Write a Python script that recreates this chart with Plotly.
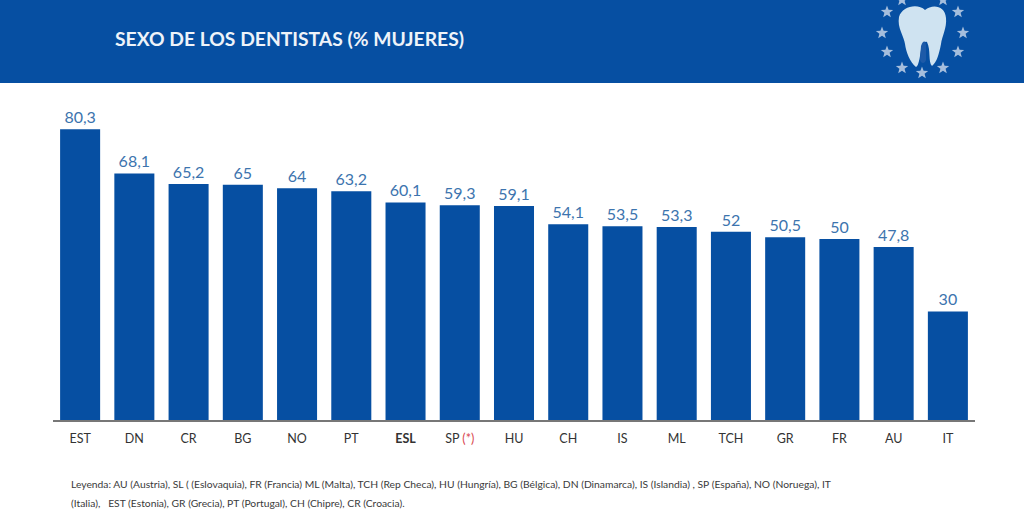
import plotly.graph_objects as go
import math

# Share of women among dentists, by country code
countries = ["EST", "DN", "CR", "BG", "NO", "PT", "ESL", "SP", "HU", "CH", "IS", "ML", "TCH", "GR", "FR", "AU", "IT"]
women_pct = [80.3, 68.1, 65.2, 65, 64, 63.2, 60.1, 59.3, 59.1, 54.1, 53.5, 53.3, 52, 50.5, 50, 47.8, 30]
tick_labels = ["EST", "DN", "CR", "BG", "NO", "PT", "<b>ESL</b>",
               "SP <span style='color:#d9474f'>(*)</span>",
               "HU", "CH", "IS", "ML", "TCH", "GR", "FR", "AU", "IT"]
value_labels = [f"{v:g}".replace(".", ",") for v in women_pct]

title_text = "SEXO DE LOS DENTISTAS (% MUJERES)"
legend_line_1 = ("Leyenda: AU (Austria), SL ( (Eslovaquia), FR (Francia) ML (Malta), TCH (Rep Checa), HU (Hungría), "
                 "BG (Bélgica), DN (Dinamarca), IS (Islandia) , SP (España), NO (Noruega), IT")
legend_line_2 = "(Italia),   EST (Estonia), GR (Grecia), PT (Portugal), CH (Chipre), CR (Croacia)."

W, H = 1024, 522
BLUE = "#064fa2"
FONT = "Lato, sans-serif"


def px(x):
    return x / W


def py(y):
    return 1 - y / H


def path_from(points):
    # Paths are written in page pixels and converted to paper coordinates
    out = []
    for cmd, *xy in points:
        coords = " ".join(f"{px(xy[i]):.5f},{py(xy[i + 1]):.5f}" for i in range(0, len(xy), 2))
        out.append(f"{cmd} {coords}")
    return " ".join(out) + " Z"


def star(cx, cy, r):
    pts = []
    for i in range(10):
        a = -math.pi / 2 + i * math.pi / 5
        rad = r if i % 2 == 0 else r * 0.42
        pts.append(("M" if i == 0 else "L", cx + rad * math.cos(a), cy + rad * math.sin(a)))
    return path_from(pts)


star_centres = [(902, 0), (943, 0), (887, 12), (958, 12), (882, 33), (963, 33),
                (887, 52), (958, 52), (902, 68), (943, 68), (922, 73)]

# Crown and two roots of the tooth emblem
tooth = [("M", 899, 17),
         ("C", 902, 6, 918, 3, 925, 10),
         ("C", 932, 4, 945, 5, 946, 18),
         ("C", 947, 28, 942, 36, 941, 44),
         ("C", 939, 54, 937, 62, 932, 66),
         ("C", 928, 62, 931, 50, 927, 42),
         ("C", 922, 40, 921, 50, 920, 56),
         ("C", 919, 62, 918, 66, 916, 67),
         ("C", 910, 62, 906, 52, 905, 44),
         ("C", 904, 36, 897, 28, 899, 17)]
root_gap = [("M", 921, 46),
            ("C", 923, 40, 926, 40, 926, 46),
            ("L", 926, 60),
            ("C", 925, 64, 921, 64, 920, 60)]

shapes = [dict(type="rect", xref="paper", yref="paper", x0=0, x1=1, y0=py(83), y1=1,
               fillcolor=BLUE, line_width=0, layer="below")]
shapes += [dict(type="path", xref="paper", yref="paper", path=star(cx, cy, 6.5),
                fillcolor="#a5bedd", line_width=0) for cx, cy in star_centres]
shapes.append(dict(type="path", xref="paper", yref="paper", path=path_from(tooth),
                   fillcolor="#cfe3f1", line_width=0))
shapes.append(dict(type="path", xref="paper", yref="paper", path=path_from(root_gap),
                   fillcolor="#1d5aa8", line_width=0))

fig = go.Figure(go.Bar(
    x=countries, y=women_pct,
    marker=dict(color=BLUE, line_width=0),
    text=value_labels, textposition="outside", cliponaxis=False,
    textfont=dict(family=FONT, size=16, color="#3c74ae"),
    hoverinfo="x+y",
))

fig.update_layout(
    width=W, height=H, margin=dict(l=0, r=0, t=0, b=0),
    paper_bgcolor="white", plot_bgcolor="white", showlegend=False,
    bargap=0.262, shapes=shapes,
    xaxis=dict(domain=[px(53), px(975)], range=[-0.5, 16.5], type="category",
               tickmode="array", tickvals=countries, ticktext=tick_labels,
               ticks="", showgrid=False, showline=True, linecolor="#777777", linewidth=1.5,
               tickfont=dict(family=FONT, size=12.5, color="#333333"), ticklabelstandoff=6),
    yaxis=dict(domain=[py(420), py(58)], range=[0, 100], visible=False, showgrid=False),
    annotations=[
        dict(text=f"<b>{title_text}</b>", xref="paper", yref="paper", x=px(113), y=py(39),
             xanchor="left", yanchor="middle", showarrow=False,
             font=dict(family=FONT, size=19.3, color="#eef3f9")),
        dict(text=legend_line_1, xref="paper", yref="paper", x=px(69), y=py(484),
             xanchor="left", yanchor="middle", showarrow=False,
             font=dict(family=FONT, size=10.3, color="#3a3a3a")),
        dict(text=legend_line_2, xref="paper", yref="paper", x=px(69), y=py(503),
             xanchor="left", yanchor="middle", showarrow=False,
             font=dict(family=FONT, size=10.3, color="#3a3a3a")),
    ],
)

fig.write_html("out.html")
